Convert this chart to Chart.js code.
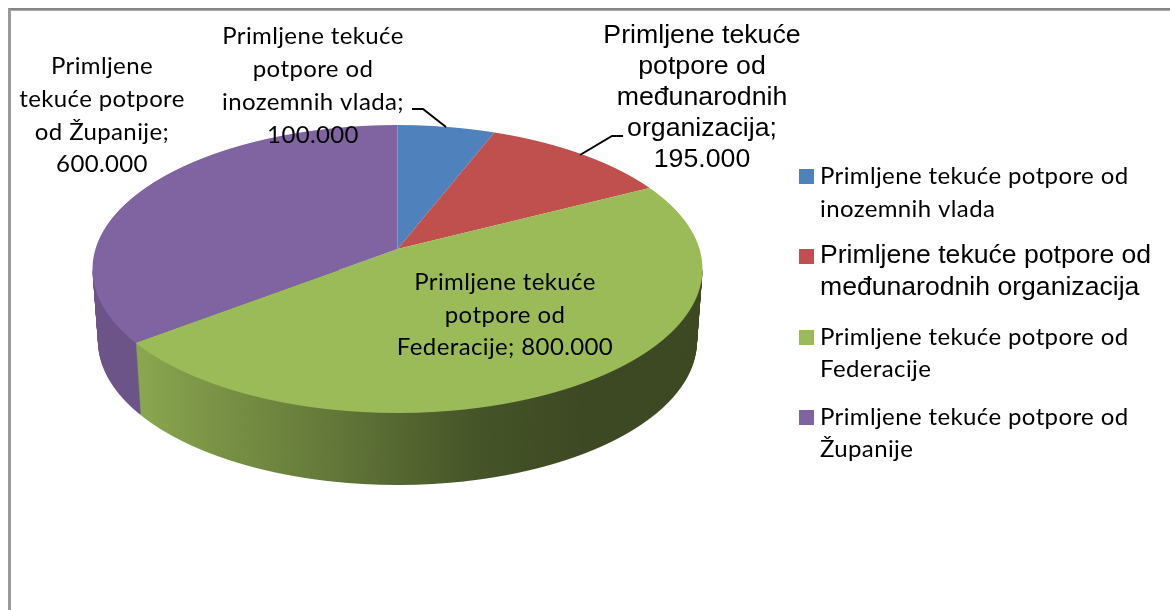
<!DOCTYPE html>
<html><head><meta charset="utf-8">
<script src="https://cdn.jsdelivr.net/npm/chart.js@4"></script>
<style>
html,body{margin:0;padding:0;background:#fff;overflow:hidden}
#wrap{position:relative;width:1170px;height:610px}
#frame{position:absolute;left:8px;top:8px;width:1300px;height:800px;border-top:2px solid #868686;border-left:3px solid #9a9a9a;box-shadow:inset 0 1px 0 #ababab;box-sizing:border-box}
canvas{position:absolute;left:0;top:0}
</style></head>
<body><div id="wrap"><div id="frame"></div><canvas id="c" width="1170" height="610"></canvas></div>
<script>
const categories = ["Primljene tekuće potpore od inozemnih vlada","Primljene tekuće potpore od međunarodnih organizacija","Primljene tekuće potpore od Federacije","Primljene tekuće potpore od Županije"];
const values = [100000,195000,800000,600000];
const colors = ["#4F81BD","#C0504D","#9BBB59","#8064A2"];
const wallColors = [null,null,"#9BBB59","#6C5489"];
const legendWraps = [["Primljene tekuće potpore od","inozemnih vlada"],["Primljene tekuće potpore od","međunarodnih organizacija"],["Primljene tekuće potpore od","Federacije"],["Primljene tekuće potpore od","Županije"]];
const labelWraps = [["Primljene tekuće","potpore od","inozemnih vlada;","{v}"],["Primljene tekuće","potpore od","međunarodnih","organizacija;","{v}"],["Primljene tekuće","potpore od","Federacije; {v}"],["Primljene","tekuće potpore","od Županije;","{v}"]];

const CAL = {font:'24px Lato',spacing:'0.38px'};
const ARI = {font:'26.6px "Liberation Sans"',spacing:'0px'};
const labelStyle = [CAL,{font:'26.7px "Liberation Sans"',spacing:'0px'},CAL,CAL];
const labelPos = [{x:313,y:[44,77,110,143]},{x:702,y:[43,74,105,136,167]},{x:505,y:[290,323,355]},{x:102,y:[74,107,140,172]}];
const legendPos = [{box:169,y:[184,217]},{box:249,y:[263,295]},{box:330,y:[345,377]},{box:410,y:[425,457]}];
const legendStyle = [CAL,ARI,CAL,CAL];
const leaders = [[[412,109],[423,109],[446,127]],[[623,136],[612,136],[580,155]]];

const P = {cx:397.5,apex:249,A:141.2,k:0.1389,B:302,depth:72,shrink:0.018,top:125,bottom:413,wallTop:269};
const fmt = v => String(v).replace(/\B(?=(\d{3})+$)/g,'.');

function rowDraw(ctx, el, py, destY, s, bg){
  const {x:cx,y:cy,outerRadius:R} = el;
  const toY = r => { const t=(P.apex-r)/P.A; return t/(1-P.k*t); };
  const y0=toY(py), y1=toY(py+1), ym=(y0+y1)/2, w=1+P.k*ym;
  const a=P.B*s/(w*R), dd=1/(R*(y0-y1));
  ctx.save();
  ctx.beginPath(); ctx.rect(0,destY,1170,1); ctx.clip();
  ctx.setTransform(a,0,0,dd,P.cx-a*cx,destY-dd*(cy-R*y0));
  const saved=el.options;
  el.options=Object.assign({},saved,{backgroundColor:bg});
  el.draw(ctx);
  el.options=saved;
  ctx.restore();
}
function wall(ctx, el, bg){
  for(let d=P.depth;d>=1;d--){
    const s=1-P.shrink*d/P.depth;
    for(let py=P.wallTop;py<P.bottom;py++) rowDraw(ctx,el,py,py+d,s,bg);
  }
}
const pie3d = {
  id:'pie3d',
  beforeDatasetsDraw(chart){
    const ctx=chart.ctx, els=chart.getDatasetMeta(0).data;
    ctx.save();
    // side wall: shaded part first, flat part behind it
    wall(ctx,els[2],wallColors[2]);
    const g=ctx.createLinearGradient(135,0,702,0);
    [[0,.1],[.15,.22],[.35,.36],[.6,.55],[.8,.61],[1,.61]].forEach(([o,a])=>g.addColorStop(o,`rgba(0,0,0,${a})`));
    ctx.globalCompositeOperation='source-atop';
    ctx.fillStyle=g; ctx.fillRect(0,0,1170,610);
    ctx.globalCompositeOperation='destination-over';
    wall(ctx,els[3],wallColors[3]);
    ctx.globalCompositeOperation='source-over';
    // top face
    for(let py=P.top-1;py<=P.bottom;py++) els.forEach((el,i)=>rowDraw(ctx,el,py,py,1,colors[i]));
    // leaders
    ctx.strokeStyle='#000'; ctx.lineWidth=2;
    leaders.forEach(l=>{ctx.beginPath();l.forEach((p,i)=>i?ctx.lineTo(p[0],p[1]):ctx.moveTo(p[0],p[1]));ctx.stroke();});
    // data labels
    ctx.fillStyle='#000'; ctx.textBaseline='alphabetic';
    labelWraps.forEach((lines,i)=>{
      ctx.font=labelStyle[i].font; ctx.letterSpacing=labelStyle[i].spacing; ctx.textAlign='center';
      lines.forEach((t,j)=>ctx.fillText(t.replace('{v}',fmt(values[i])),labelPos[i].x,labelPos[i].y[j]));
    });
    // legend
    legendWraps.forEach((lines,i)=>{
      ctx.fillStyle=colors[i]; ctx.fillRect(799,legendPos[i].box,15,15);
      ctx.fillStyle='#000'; ctx.font=legendStyle[i].font; ctx.letterSpacing=legendStyle[i].spacing; ctx.textAlign='left';
      lines.forEach((t,j)=>ctx.fillText(t,820,legendPos[i].y[j]));
    });
    ctx.restore();
    return false;
  }
};
new Chart(document.getElementById('c'),{
  type:'pie',
  data:{labels:categories,datasets:[{data:values,backgroundColor:colors,borderWidth:0}]},
  options:{responsive:false,animation:false,events:[],layout:{padding:0},
    plugins:{legend:{display:false},tooltip:{enabled:false},title:{display:false}}},
  plugins:[pie3d]
});
</script></body></html>
